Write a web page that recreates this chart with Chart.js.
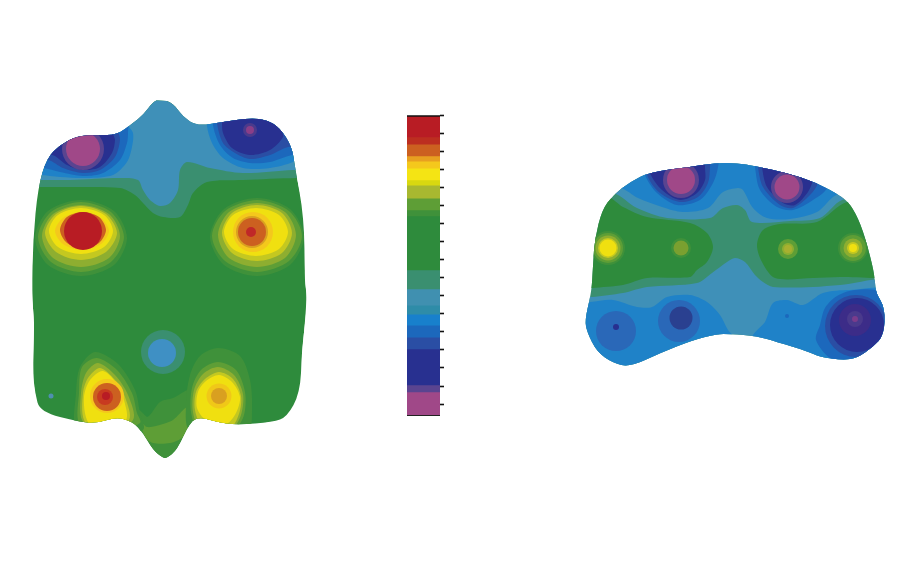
<!DOCTYPE html>
<html>
<head>
<meta charset="utf-8">
<title>Contour maps</title>
<script src="https://cdn.jsdelivr.net/npm/chart.js@4"></script>
<style>
    html, body { margin: 0; background: #fff; }
    canvas { position: absolute; }
</style>
</head>
<body>
<canvas id="left-map" width="380" height="562" style="left:0;top:0"></canvas>
<canvas id="scale-bar" width="60" height="330" style="left:400px;top:100px"></canvas>
<canvas id="right-map" width="340" height="562" style="left:560px;top:0"></canvas>
<script>
// left map in picture units
const leftOutline = [[160,99],[153,102],[143,115],[133,123],[117,135],[97,135],[77,136],[60,145],[47,158],[38,187],[33,240],[32,293],[34,323],[33,373],[35,393],[40,412],[80,422],[97,423],[117,417],[133,422],[143,433],[153,450],[163,458],[167,458],[177,450],[190,422],[200,417],[217,422],[237,425],[273,422],[287,417],[300,393],[302,353],[307,300],[305,280],[304,217],[295,167],[292,147],[280,128],[267,120],[250,118],[223,122],[197,126],[183,117],[173,103]]
const leftTeal = [[10,187],[38,187],[70,187],[120,188],[135,195],[143,203],[153,213],[163,217],[180,217],[188,205],[193,193],[207,182],[243,180],[297,178],[330,178],[330,80],[10,80]]
const leftSky = [[10,180],[40,180],[70,180],[120,178],[138,180],[143,190],[150,200],[160,206],[170,203],[178,190],[180,170],[187,162],[210,168],[243,173],[293,170],[330,170],[330,80],[10,80]]
const leftBlueA1 = [[10,175],[40,175],[60,177],[87,178],[113,175],[127,162],[132,147],[133,133],[127,123],[127,80],[10,80]]
const leftBlueA2 = [[10,168],[43,168],[60,172],[83,176],[103,173],[120,160],[127,143],[128,133],[128,80],[10,80]]
const leftBlueA3 = [[10,160],[48,160],[63,168],[83,173],[100,170],[115,157],[120,140],[118,130],[118,80],[10,80]]
const leftBlueA4 = [[10,155],[52,155],[67,165],[83,170],[100,167],[112,153],[115,140],[113,133],[113,80],[10,80]]
const leftBlueB1 = [[207,100],[207,126],[212,143],[223,158],[243,168],[270,168],[293,162],[297,157],[330,157],[330,100]]
const leftBlueB2 = [[213,100],[213,125],[220,145],[233,158],[250,163],[270,162],[292,155],[330,150],[330,100]]
const leftBlueB3 = [[217,100],[217,123],[223,143],[235,153],[250,159],[270,155],[288,147],[330,140],[330,100]]
const leftBlueB4 = [[222,100],[222,122],[223,133],[232,148],[250,155],[270,150],[283,137],[282,128],[300,100]]
const spikeOuter = [[135,407],[147,417],[160,402],[173,398],[190,390],[193,413],[192,422],[170,470],[140,440],[135,420]]
const spikeInner = [[138,420],[147,427],[163,424],[173,420],[187,407],[192,410],[190,422],[183,437],[170,443],[153,443],[145,437],[140,423]]

const redRing1 = [[127,238],[114,265],[81,276],[48,265],[35,238],[48,211],[81,200],[114,211]]
const redRing2 = [[124,237],[111,262],[81,272],[51,262],[38,237],[51,212],[81,202],[111,212]]
const redRing3 = [[120,236],[109,258],[81,267],[53,258],[42,236],[53,214],[81,205],[109,214]]
const redRing4 = [[117,233],[106,252],[81,260],[56,252],[45,233],[56,214],[81,206],[106,214]]
const redRing5 = [[113,231],[104,247],[81,254],[58,247],[49,231],[58,215],[81,208],[104,215]]
const redRing6 = [[109,231],[101,244],[82,250],[63,244],[55,231],[63,218],[82,212],[101,218]]
const redRing7 = [[106,230],[99,243],[83,248],[67,243],[60,230],[67,217],[83,212],[99,217]]
const redCore = [[83,231,19]]

const orangeRing1 = [[304,237],[290,265],[257,276],[224,265],[210,237],[224,209],[257,198],[290,209]]
const orangeRing2 = [[302,236],[289,261],[257,272],[225,261],[212,236],[225,211],[257,200],[289,211]]
const orangeRing3 = [[296,235],[285,258],[257,267],[229,258],[218,235],[229,212],[257,203],[285,212]]
const orangeRing4 = [[292,233],[282,253],[257,261],[232,253],[222,233],[232,213],[257,205],[282,213]]
const orangeRing5 = [[288,232],[279,249],[256,256],[233,249],[224,232],[233,215],[256,208],[279,215]]
const orangeCore = [[253,232,20],[252,232,16],[252,232,14],[251,232,5]]

const eggLeft1 = [[95,352],[118,364],[135,390],[140,413],[143,430],[100,440],[76,430],[76,393],[80,367]]
const eggLeft2 = [[97,358],[117,370],[132,393],[137,413],[140,423],[100,440],[79,423],[79,393],[82,367]]
const eggLeft3 = [[98,363],[115,375],[128,395],[133,420],[100,435],[82,420],[81,393],[86,373]]
const eggLeft4 = [[100,368],[115,380],[125,397],[129,420],[100,435],[84,420],[83,393],[88,378]]
const eggLeft5 = [[103,371],[118,385],[124,400],[126,420],[100,435],[87,420],[84,397],[90,380]]
const eggLeftCore = [[107,396,17],[107,397,14],[105,397,8],[106,396,4]]

const eggRight1 = [[218,348],[240,356],[250,380],[252,410],[248,430],[190,430],[186,405],[190,375],[200,356]]
const eggRight2 = [[218,362],[236,370],[245,392],[244,415],[235,428],[198,428],[191,412],[192,388],[201,370]]
const eggRight3 = [[218,367],[234,375],[243,394],[241,415],[232,428],[200,428],[193,412],[194,390],[203,374]]
const eggRight4 = [[219,372],[233,379],[241,396],[239,414],[230,428],[202,425],[195,410],[196,392],[205,379]]
const eggRight5 = [[219,375],[232,382],[240,397],[236,413],[226,424],[206,420],[197,408],[198,392],[206,381]]
const eggRightCore = [[219,396,12.5],[219,396,8]]

const topLeftSpot = [[83,149,21],[83,149,17]]
const topRightSpot = [[250,130,7],[250,130,4]]
const middleSpot = [[163,352,22],[162,353,14]]
const strayDot = [[51,396,2.5]]

// right map
const rightOutline = [[593,263],[595,238],[602,210],[613,195],[630,182],[650,172],[690,167],[715,163],[737,163],[755,166],[787,173],[815,182],[843,197],[853,208],[863,230],[873,267],[875,282],[876,293],[885,308],[884,335],[873,347],[857,358],[843,360],[820,357],[807,351],[777,342],[757,336],[730,334],[717,334],[693,340],[660,353],[630,367],[613,363],[597,352],[587,332],[585,320],[590,298],[592,285]]
const rightBase = [[570,150],[895,150],[895,380],[570,380]]
const greenLobeLeft = [[570,197],[608,197],[623,207],[647,217],[690,223],[707,233],[713,247],[707,262],[697,270],[690,277],[647,278],[623,285],[592,288],[570,290]]
const greenLobeRight = [[895,202],[847,202],[817,222],[780,224],[763,230],[757,245],[762,262],[775,278],[813,278],[840,277],[875,278],[895,278]]
const upperSky = [[570,193],[613,193],[637,208],[667,218],[710,218],[723,208],[737,205],[745,210],[752,222],[790,221],[820,218],[842,200],[895,190],[895,150],[570,150]]
const upperBlue = [[570,188],[620,188],[638,198],[662,207],[683,212],[708,208],[723,192],[738,188],[743,190],[753,208],[767,218],[790,219],[817,212],[833,197],[842,193],[895,190],[895,150],[570,150]]
const lobeA1 = [[640,150],[645,175],[657,193],[677,205],[700,200],[713,183],[718,167],[718,150]]
const lobeA2 = [[644,150],[648,177],[660,193],[680,202],[698,197],[708,183],[710,167],[710,150]]
const lobeA3 = [[646,150],[650,173],[662,190],[680,200],[697,193],[705,180],[705,167],[705,150]]
const lobeB1 = [[754,150],[755,167],[760,190],[777,207],[793,210],[813,200],[827,188],[835,150]]
const lobeB2 = [[757,150],[758,167],[763,187],[780,205],[793,208],[810,195],[818,183],[825,150]]
const lobeB3 = [[761,150],[762,167],[767,187],[783,203],[795,205],[808,192],[813,180],[820,150]]
const lowerSky = [[570,297],[592,297],[623,293],[647,287],[697,283],[712,273],[727,262],[735,258],[745,262],[755,275],[763,282],[773,287],[813,287],[840,285],[895,283],[895,380],[570,380]]
const lowerBlueLeft = [[570,302],[590,302],[613,300],[637,307],[652,307],[667,297],[690,295],[707,302],[720,315],[728,330],[735,340],[620,380],[570,380]]
const lowerBlueRight = [[752,340],[765,322],[773,303],[787,300],[803,305],[823,293],[850,290],[895,292],[895,380],[800,380]]
const lowerRingRight = [[816,340],[820,325],[825,308],[837,296],[855,290],[880,292],[895,320],[880,350],[855,367],[830,358]]

const pinkSpotLeft = [[681,180,18],[681,180,14]]
const pinkSpotRight = [[787,187,16],[787,187,12.5]]
const yellowSpot = [[608,248,17],[608,248,15],[608,248,12.5],[608,248,10],[608,248,8.5]]
const oliveSpot = [[681,248,10],[681,248,7.5]]
const limeSpot = [[788,249,10],[788,249,6],[788,249,4]]
const limeSpot2 = [[853,248,15],[853,248,13],[853,248,9.5],[853,248,6],[853,248,4]]
const blueSpotA = [[616,331,20],[616,327,3]]
const blueSpotB = [[679,321,21],[681,318,11.5]]
const blueSpotC = [[787,316,2]]
const darkSpot = [[856,326,31],[857,325,27],[855,320,16],[855,319,8],[855,319,3]]

// scale bar, band heights in tick steps, top to bottom
const bandHeights = [0.08,1.14,0.39,0.66,0.28,0.39,0.66,0.28,0.72,0.66,0.33,2.99,1.05,0.89,0.5,0.61,0.66,0.66,1.99,0.39,1.25,0.08]
const bandColors = ['#111','#B81C24','#BC2E20','#CC6020','#E8A020','#F4C81C','#F4E414','#D8D810','#A8B830','#5E9E36','#3F913A','#2E8B3C','#3A8F70','#4090B0','#2E8CA8','#1880CC','#1C68BC','#2A4EA4','#283090','#5A4490','#A04888','#222']
const barTop = 0
const barMax = 16.66


const colors = {
    green: '#2E8B3C', greenLight: '#3F913A', olive: '#5E9E36', moss: '#8EAE30', lime: '#C4C820',
    yellow: '#F0E010', amber: '#F4C81C', gold: '#D9A020', orange: '#CC6020', vermilion: '#C83A20',
    red: '#B81C24', teal: '#3A8F70', sky: '#3F90B8', blue: '#1F82C8', blue2: '#1C68BC',
    navy: '#2A4EA4', indigo: '#283090', violet: '#5A4490', pink: '#A04888'
}


// clip everything to the map outline, so contours may overshoot it
const outlineClip = {
    id: 'outlineClip',
    beforeDatasetsDraw(chart, args, opts) {
        const xs = chart.scales.x
        const ys = chart.scales.y
        const pts = opts.outline.map(p => [xs.getPixelForValue(p[0]), ys.getPixelForValue(p[1])])
        const ctx = chart.ctx
        ctx.save()
        ctx.beginPath()
        for (let i = 0; i < pts.length; i++) {
            const next = pts[(i + 1) % pts.length]
            const midX = (pts[i][0] + next[0]) / 2
            const midY = (pts[i][1] + next[1]) / 2
            if (i === 0)
                ctx.moveTo(midX, midY)
            else
                ctx.quadraticCurveTo(pts[i][0], pts[i][1], midX, midY)
        }
        ctx.closePath()
        ctx.clip()
    },
    afterDatasetsDraw(chart) {
        chart.ctx.restore()
    }
}


// the loop overlaps itself by a point each way, so the curve has no kink where it closes
function area(points, color) {
    const loop = [points[points.length - 1], ...points, points[0], points[1]]
    return {
        type: 'scatter',
        data: loop.map(p => ({ x: p[0], y: p[1] })),
        showLine: true,
        fill: 'shape',
        tension: 0.3,
        borderWidth: 0,
        pointRadius: 0,
        backgroundColor: color
    }
}


function spots(points, pointColors) {
    return points.map((p, i) => ({
        type: 'bubble',
        data: [{ x: p[0], y: p[1], r: p[2] }],
        borderWidth: 0,
        backgroundColor: pointColors[i]
    }))
}


// layers come in paint order, Chart.js paints the first dataset last
function renderMap(id, layers, outline, xMin, xMax) {
    return new Chart(document.getElementById(id), {
        type: 'scatter',
        data: { datasets: layers.flat().reverse() },
        plugins: [outlineClip],
        options: {
            responsive: false,
            animation: false,
            events: [],
            layout: { padding: 0, autoPadding: false },
            plugins: {
                legend: { display: false },
                tooltip: { enabled: false },
                outlineClip: { outline: outline }
            },
            scales: {
                x: { type: 'linear', display: false, min: xMin, max: xMax },
                y: { type: 'linear', display: false, min: 0, max: 562, reverse: true }
            }
        }
    })
}


function renderScaleBar() {
    return new Chart(document.getElementById('scale-bar'), {
        type: 'bar',
        data: {
            labels: [''],
            datasets: bandHeights.map((h, i) => ({
                data: [h],
                backgroundColor: bandColors[i],
                barPercentage: 1,
                categoryPercentage: 1
            }))
        },
        options: {
            responsive: false,
            animation: false,
            events: [],
            layout: { padding: { left: 7, right: 16, top: 15, bottom: 14 } },
            plugins: { legend: { display: false }, tooltip: { enabled: false } },
            scales: {
                x: { display: false, stacked: true },
                y: {
                    stacked: true,
                    reverse: true,
                    position: 'right',
                    min: barTop,
                    max: barMax,
                    afterFit: (scale) => { scale.width = 4 },
                    border: { display: false },
                    grid: { drawOnChartArea: false, tickLength: 4, tickWidth: 1.6, tickColor: '#111' },
                    ticks: { display: false, stepSize: 1, includeBounds: false }
                }
            }
        }
    })
}


const c = colors

renderMap('left-map', [
    area(leftOutline, c.green),
    area(leftTeal, c.teal),
    area(leftSky, c.sky),
    area(leftBlueA1, c.blue),
    area(leftBlueA2, c.blue2),
    area(leftBlueA3, c.navy),
    area(leftBlueA4, c.indigo),
    area(leftBlueB1, c.blue),
    area(leftBlueB2, c.blue2),
    area(leftBlueB3, c.navy),
    area(leftBlueB4, c.indigo),
    spots(topLeftSpot, [c.violet, c.pink]),
    spots(topRightSpot, ['#4A3A8C', '#8A3E88']),
    spots(middleSpot, [c.teal, '#3F90C4']),
    spots(strayDot, ['#4F8FB0']),
    area(spikeOuter, c.greenLight),
    area(spikeInner, c.olive),
    area(redRing1, c.greenLight),
    area(redRing2, c.olive),
    area(redRing3, c.moss),
    area(redRing4, c.lime),
    area(redRing5, c.yellow),
    area(redRing6, c.amber),
    area(redRing7, c.orange),
    spots(redCore, [c.red]),
    area(orangeRing1, c.greenLight),
    area(orangeRing2, c.olive),
    area(orangeRing3, c.moss),
    area(orangeRing4, c.lime),
    area(orangeRing5, c.yellow),
    spots(orangeCore, [c.amber, c.gold, c.orange, '#C02828']),
    area(eggLeft1, c.greenLight),
    area(eggLeft2, c.olive),
    area(eggLeft3, c.moss),
    area(eggLeft4, c.lime),
    area(eggLeft5, c.yellow),
    spots(eggLeftCore, [c.amber, c.orange, c.vermilion, c.red]),
    area(eggRight1, c.greenLight),
    area(eggRight2, c.olive),
    area(eggRight3, c.moss),
    area(eggRight4, c.lime),
    area(eggRight5, c.yellow),
    spots(eggRightCore, ['#F0C818', c.gold])
], leftOutline, 0, 380)

renderScaleBar()

renderMap('right-map', [
    area(rightBase, c.teal),
    area(greenLobeLeft, c.green),
    area(greenLobeRight, c.green),
    area(upperSky, c.sky),
    area(upperBlue, c.blue),
    area(lobeA1, c.blue2),
    area(lobeA2, c.navy),
    area(lobeA3, c.indigo),
    area(lobeB1, c.blue2),
    area(lobeB2, c.navy),
    area(lobeB3, c.indigo),
    spots(pinkSpotLeft, [c.violet, c.pink]),
    spots(pinkSpotRight, [c.violet, c.pink]),
    spots(yellowSpot, [c.greenLight, c.olive, c.moss, c.lime, c.yellow]),
    spots(oliveSpot, [c.greenLight, '#7AA030']),
    spots(limeSpot, [c.olive, c.moss, '#A8B030']),
    spots(limeSpot2, [c.greenLight, c.olive, c.moss, c.lime, c.yellow]),
    area(lowerSky, c.sky),
    area(lowerBlueLeft, c.blue),
    area(lowerBlueRight, c.blue),
    area(lowerRingRight, c.blue2),
    spots(blueSpotA, ['#2A68B8', c.indigo]),
    spots(blueSpotB, ['#2A68B8', '#2A4090']),
    spots(blueSpotC, [c.blue2]),
    spots(darkSpot, [c.navy, c.indigo, '#3C2C88', '#4A3A8C', '#7A3C8C'])
], rightOutline, 560, 900)
</script>
</body>
</html>
